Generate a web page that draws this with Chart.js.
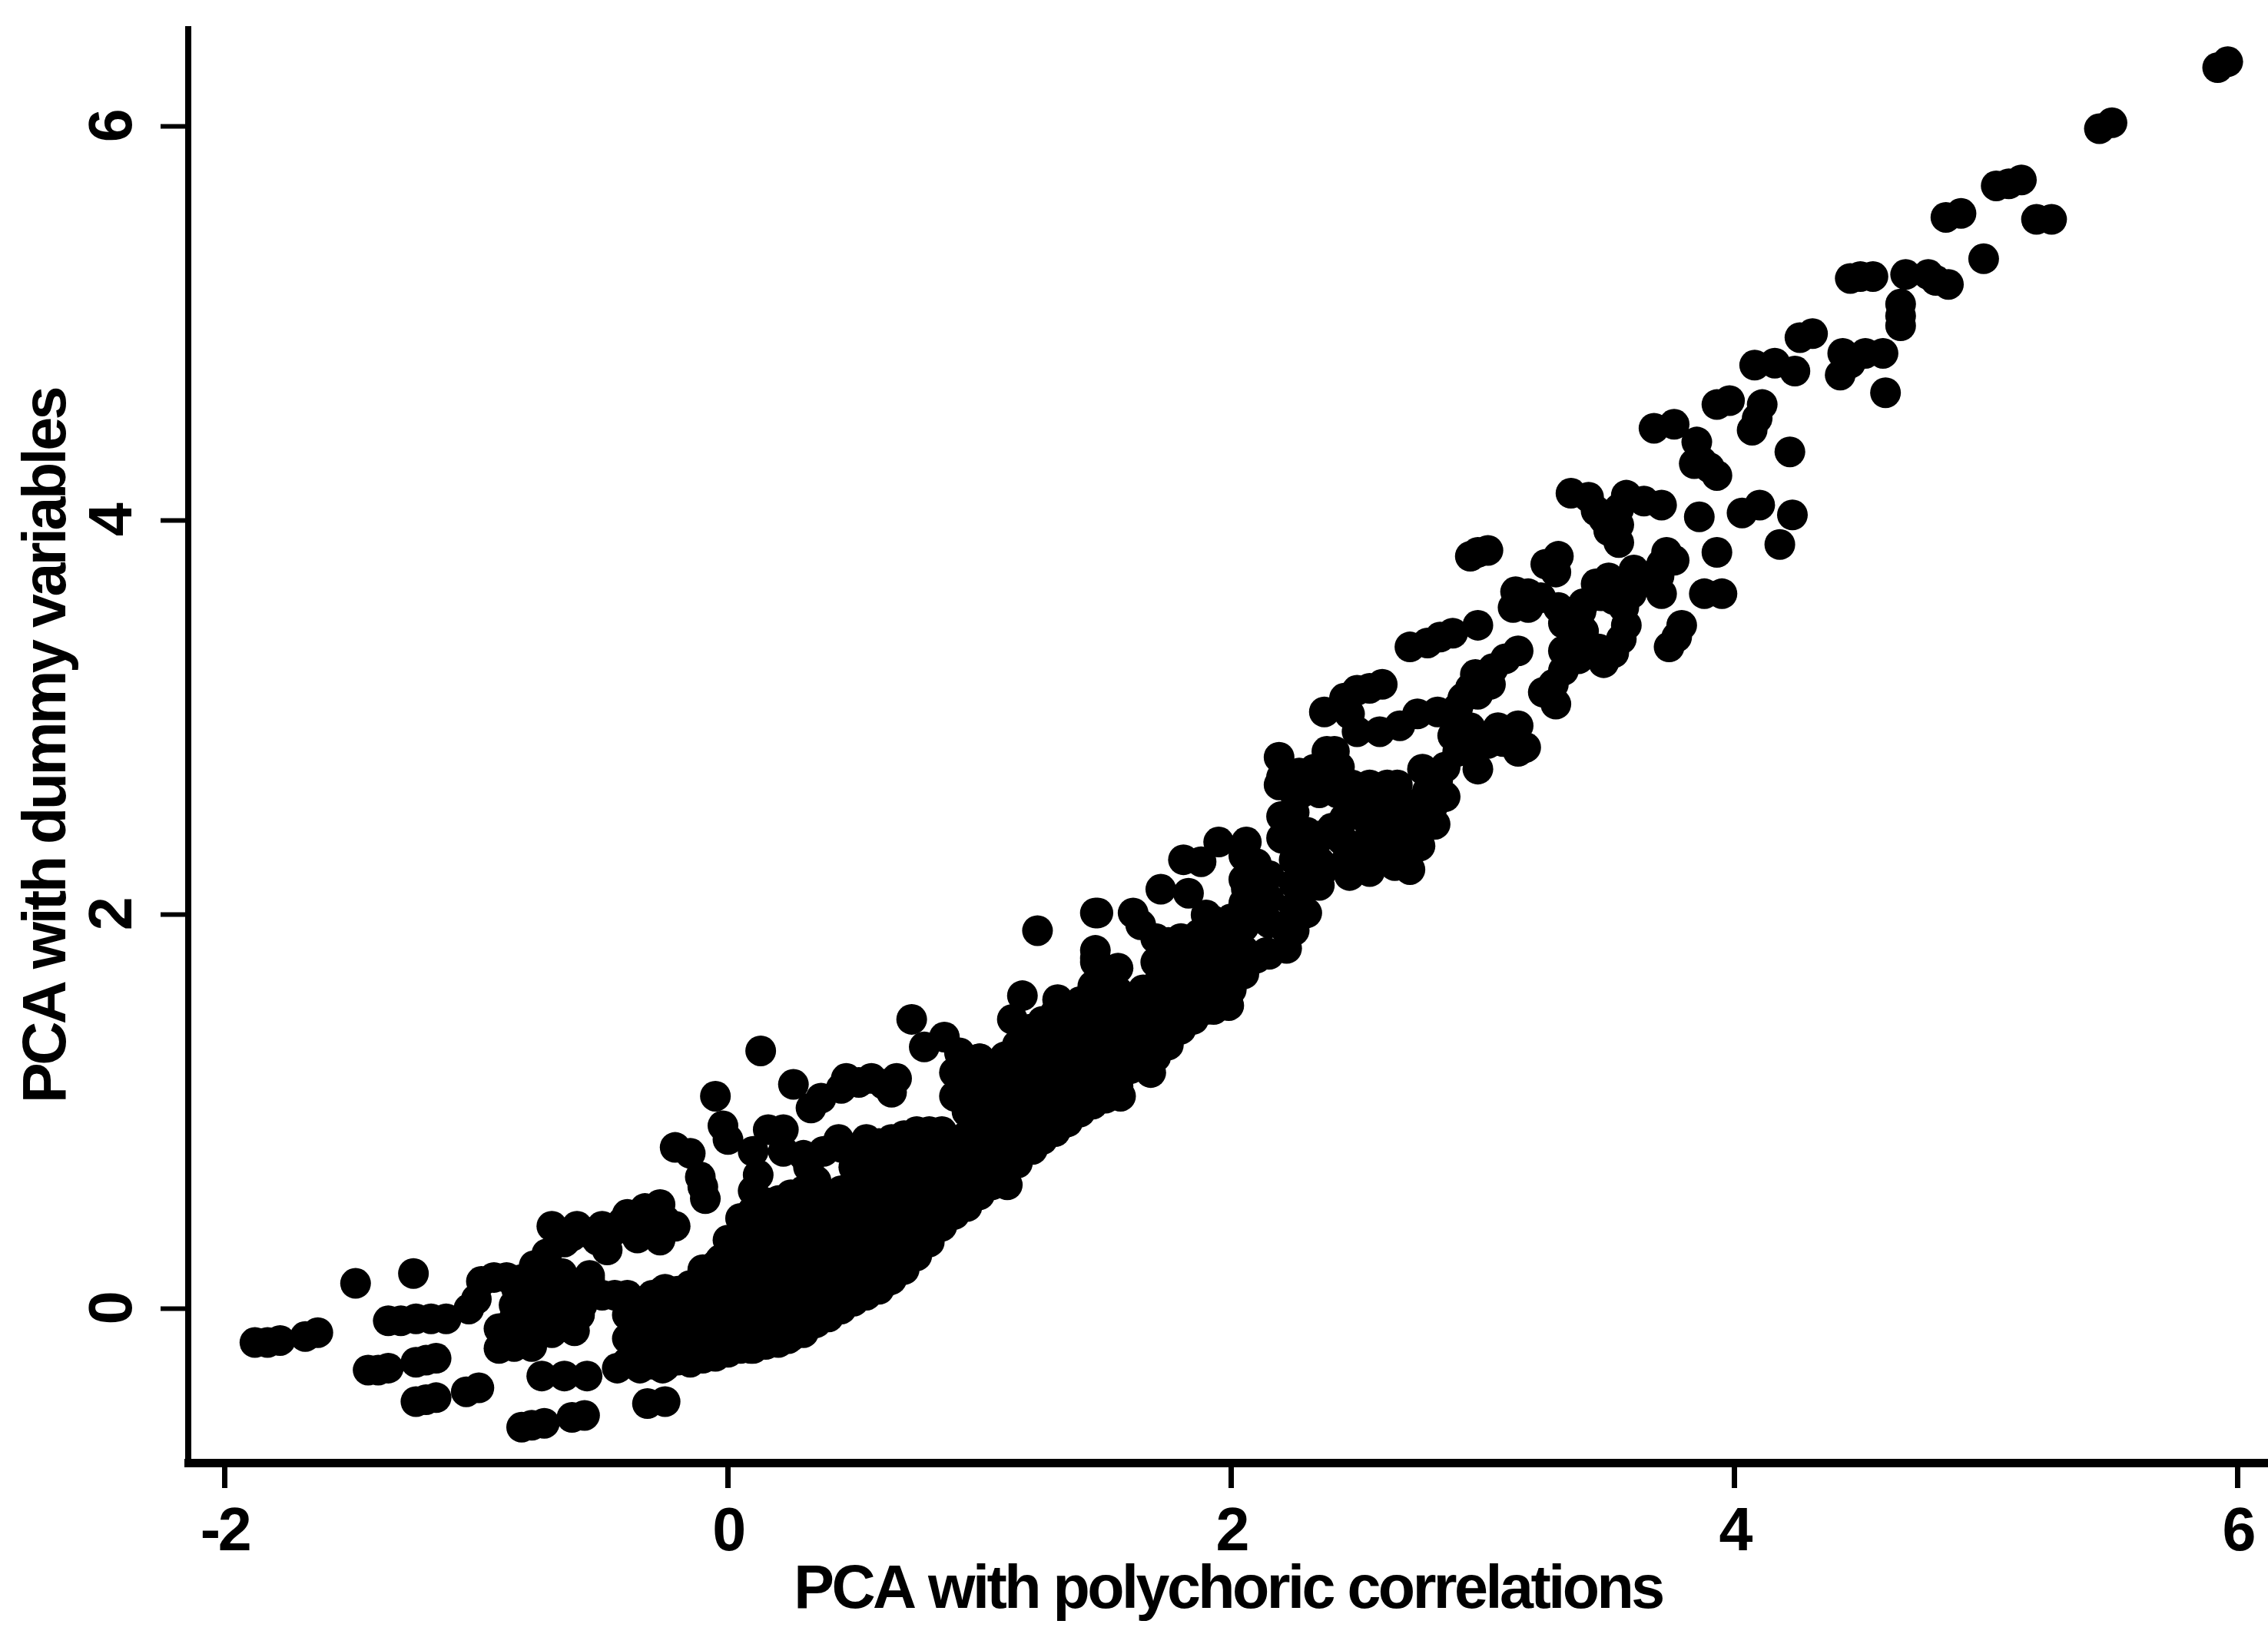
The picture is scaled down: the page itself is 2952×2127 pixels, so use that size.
<!DOCTYPE html>
<html>
<head>
<meta charset="utf-8">
<title>PCA comparison</title>
<script src="https://cdn.jsdelivr.net/npm/chart.js@4"></script>
<style>
  html, body { margin: 0; padding: 0; background: #fff; }
  canvas { display: block; }
</style>
</head>
<body>
<canvas id="chart" width="2952" height="2127"></canvas>
<script>
// Values, cluster by cluster. Each line of X pairs with the same line of Y.
const xTickValues = [-2, 0, 2, 4, 6];
const yTickValues = [0, 2, 4, 6];
const xAxisTitle = 'PCA with polychoric correlations';
const yAxisTitle = 'PCA with dummy variables';

// top right tail
const tailX = [
  5.92, 5.96, 5.45, 5.50, 5.04, 5.09, 5.14, 4.84, 4.90, 5.20, 5.26, 4.99,
  4.46, 4.50, 4.55, 4.68, 4.77, 4.80, 4.85, 4.66, 4.66, 4.66,
  4.26, 4.31, 4.43, 4.42, 4.59, 4.46, 4.52, 4.60,
  4.08, 4.16, 4.24, 3.93, 3.98, 4.11, 4.07, 4.09, 4.22,
  3.68, 3.76, 3.85, 3.87, 3.84, 3.93, 3.90,
  3.35, 3.57, 3.71, 3.64, 3.48, 3.54, 3.54, 3.42, 3.86, 4.03, 4.10, 4.23, 4.18, 3.93,
  3.45, 3.50, 3.54
];
const tailY = [
  6.30, 6.33, 5.99, 6.02, 5.70, 5.71, 5.73, 5.54, 5.56, 5.53, 5.53, 5.33,
  5.23, 5.24, 5.24, 5.25, 5.25, 5.22, 5.20, 5.10, 5.04, 4.99,
  4.93, 4.95, 4.85, 4.74, 4.85, 4.80, 4.85, 4.65,
  4.79, 4.80, 4.76, 4.59, 4.61, 4.59, 4.46, 4.52, 4.35,
  4.47, 4.49, 4.40, 4.30, 4.29, 4.23, 4.27,
  4.14, 4.13, 4.08, 4.10, 4.01, 3.89, 3.98, 4.12, 4.02, 4.04, 4.08, 4.03, 3.88, 3.84,
  4.05, 3.95, 4.06
];

// scattered band between 2.2 and 4
const upperBandX = [
  2.95, 2.98, 3.02, 3.30, 3.25, 3.29, 3.73, 3.71, 3.71, 3.88, 3.95, 3.79, 3.74, 3.77, 3.65, 3.60,
  3.50, 3.59, 3.57, 3.46, 3.39, 3.37, 3.13, 3.12, 3.23, 3.30, 3.18,
  3.47, 3.56, 3.40, 3.55, 3.40, 3.20, 3.32, 3.32, 3.18, 3.52,
  2.71, 2.78, 2.88, 2.98, 2.83, 3.14, 2.97, 3.03, 3.09, 3.28, 3.29, 3.24, 3.32, 3.38,
  2.55, 2.60, 2.50, 2.37, 2.74, 2.82, 2.90, 3.14, 3.14, 3.17, 2.47, 2.45,
  2.59, 2.67, 2.50, 2.55, 2.66, 2.76, 2.90, 2.98, 2.88, 2.95,
  2.19, 2.20, 2.19, 2.33, 2.41, 2.48, 2.65, 2.78, 2.76, 2.81, 2.47, 2.59,
  2.85, 2.45, 2.65, 2.75, 2.75, 2.30, 2.30,
  2.25, 2.25, 2.25, 2.35, 2.42, 2.40, 2.50, 2.50, 2.55, 2.60, 2.60,
  2.70, 2.70, 2.62, 2.37, 2.55, 2.75, 2.80, 2.85, 2.82, 2.20, 2.35,
  3.06, 3.02, 2.94, 3.08, 2.92, 2.98, 3.04, 2.95,
  2.27, 2.28, 2.37, 2.43, 2.38,
  3.52, 3.45, 3.36, 3.48, 3.76, 3.70
];
const upperBandY = [
  3.82, 3.84, 3.85, 3.82, 3.78, 3.74, 3.84, 3.78, 3.63, 3.63, 3.63, 3.47, 3.36, 3.41, 3.70, 3.75,
  3.71, 3.63, 3.47, 3.35, 3.54, 3.40, 3.64, 3.56, 3.61, 3.56, 3.56,
  3.62, 3.56, 3.44, 3.40, 3.58, 3.60, 3.48, 3.34, 3.63, 3.33,
  3.36, 3.38, 3.43, 3.47, 3.41, 3.34, 3.22, 3.17, 3.30, 3.17, 3.07, 3.13, 3.24, 3.30,
  3.15, 3.17, 3.14, 3.03, 3.02, 3.03, 3.05, 2.96, 2.83, 2.85, 3.02, 3.10,
  2.93, 2.96, 2.93, 2.66, 2.66, 2.74, 2.83, 2.74, 2.91, 2.95,
  2.80, 2.70, 2.66, 2.74, 2.83, 2.66, 2.60, 2.63, 2.49, 2.46, 2.51, 2.46,
  2.75, 2.61, 2.42, 2.35, 2.57, 2.32, 2.42,
  2.40, 2.52, 2.62, 2.62, 2.62, 2.44, 2.35, 2.58, 2.53, 2.30, 2.55,
  2.35, 2.50, 2.66, 2.76, 2.30, 2.45, 2.55, 2.60, 2.68, 2.50, 2.40,
  2.95, 2.87, 2.86, 2.88, 3.10, 3.12, 3.25, 3.15,
  2.72, 2.62, 2.70, 2.75, 2.83,
  3.60, 3.68, 3.50, 3.28, 3.80, 3.72
];

// upper and lower edge of the dense band around x = 2
const edgeX = [
  2.20, 2.06, 1.95, 1.81, 1.88, 2.71, 2.65, 2.47, 2.36, 2.44, 2.59, 2.12,
  2.28, 2.30, 2.22, 2.22, 2.04, 1.98, 2.06, 1.72, 1.83, 2.30, 2.44,
  1.46, 1.61, 1.46, 1.64, 1.87, 1.93, 1.77, 1.77, 1.48, 1.97, 2.14,
  1.23, 1.47, 1.46, 1.46, 1.17, 1.31, 0.73, 0.78, 0.86, 1.00, 0.92, 1.13, 1.20,
  1.99, 1.93, 1.70, 1.68, 1.56, 1.50, 1.33, 1.21, 1.11, 0.90, 0.73, 0.63, 0.45, 0.33, 0.24
];
const edgeY = [
  2.39, 2.37, 2.37, 2.28, 2.27, 2.23, 2.25, 2.20, 2.22, 2.38, 2.38, 2.21,
  2.11, 2.01, 1.92, 1.83, 1.73, 1.68, 2.13, 2.13, 2.11, 2.20, 2.25,
  2.01, 2.01, 1.76, 1.95, 1.90, 1.97, 1.80, 1.64, 1.62, 1.80, 1.81,
  1.92, 2.01, 1.82, 1.78, 1.59, 1.57, 1.47, 1.33, 1.38, 1.27, 1.30, 1.47, 1.40,
  1.54, 1.52, 1.34, 1.20, 1.08, 1.07, 0.94, 0.81, 0.63, 0.53, 0.27, 0.14, 0.06, -0.03, -0.15
];

// upper arm left of x = 0.9
const armX = [
  0.26, 0.47, 0.57, 0.67, 0.45, 0.65, 0.37, 0.13, 0.33, 0.52, 0.62,
  -0.05, -0.02, 0.00, 0.16, 0.22, -0.21, -0.15, -0.11, -0.09,
  -0.27, -0.40, -0.33, -0.62, -0.56, -0.21, -0.27, -0.42, -0.28, -0.36, -0.10, 0.09,
  0.12, 0.32, 0.30, 0.38, 0.10, 0.22, 0.44, 0.10,
  0.55, 0.50, 0.60, 0.65, 0.75, 0.70, 0.80, -0.33, -0.25, -0.45, -0.70
];
const armY = [
  1.14, 1.17, 1.17, 1.17, 1.12, 1.10, 1.07, 1.31, 1.02, 1.15, 1.14,
  1.08, 0.93, 0.86, 0.91, 0.91, 0.82, 0.79, 0.67, 0.56,
  0.53, 0.48, 0.51, 0.37, 0.39, 0.42, 0.35, 0.44, 0.50, 0.36, 0.62, 0.44,
  0.68, 0.72, 0.78, 0.80, 0.80, 0.80, 0.86, 0.60,
  0.76, 0.72, 0.77, 0.80, 0.90, 0.88, 0.90, 0.40, 0.45, 0.40, 0.42
];

// solid middle of the cloud, column by column
const bodyX = [
  -0.40, -0.40, -0.40, -0.40,
  -0.30, -0.30, -0.30, -0.30,
  -0.20, -0.20, -0.20, -0.20,
  -0.10, -0.10, -0.10, -0.10, -0.10,
  0.00, 0.00, 0.00, 0.00, 0.00, 0.00,
  0.10, 0.10, 0.10, 0.10, 0.10, 0.10, 0.10,
  0.20, 0.20, 0.20, 0.20, 0.20, 0.20, 0.20,
  0.30, 0.30, 0.30, 0.30, 0.30, 0.30, 0.30,
  0.40, 0.40, 0.40, 0.40, 0.40, 0.40,
  0.50, 0.50, 0.50, 0.50, 0.50, 0.50, 0.50,
  0.60, 0.60, 0.60, 0.60, 0.60, 0.60, 0.60,
  0.70, 0.70, 0.70, 0.70, 0.70, 0.70,
  0.80, 0.80, 0.80, 0.80, 0.80, 0.80,
  0.90, 0.90, 0.90, 0.90, 0.90, 0.90,
  1.00, 1.00, 1.00, 1.00, 1.00, 1.00, 1.00,
  1.10, 1.10, 1.10, 1.10, 1.10, 1.10,
  1.20, 1.20, 1.20, 1.20, 1.20, 1.20,
  1.30, 1.30, 1.30, 1.30, 1.30, 1.30,
  1.40, 1.40, 1.40, 1.40, 1.40, 1.40,
  1.50, 1.50, 1.50, 1.50, 1.50, 1.50,
  1.60, 1.60, 1.60, 1.60,
  1.70, 1.70, 1.70, 1.70, 1.70, 1.70,
  1.80, 1.80, 1.80, 1.80, 1.80,
  1.90, 1.90, 1.90, 1.90, 1.90,
  2.00, 2.00, 2.00, 2.00,
  2.10, 2.10, 2.10, 2.10
];
const bodyY = [
  -0.27, -0.15, -0.03, 0.07,
  -0.28, -0.17, -0.05, 0.07,
  -0.26, -0.14, -0.02, 0.09,
  -0.25, -0.16, -0.04, 0.08, 0.20,
  -0.22, -0.10, 0.02, 0.14, 0.26, 0.35,
  -0.20, -0.08, 0.04, 0.16, 0.28, 0.40, 0.50,
  -0.17, -0.05, 0.07, 0.19, 0.31, 0.43, 0.55,
  -0.12, 0.00, 0.12, 0.24, 0.36, 0.48, 0.60,
  -0.04, 0.08, 0.20, 0.32, 0.44, 0.56,
  0.04, 0.16, 0.28, 0.40, 0.52, 0.64, 0.80,
  0.10, 0.22, 0.34, 0.46, 0.58, 0.70, 0.84,
  0.20, 0.32, 0.44, 0.56, 0.68, 0.80,
  0.34, 0.46, 0.58, 0.70, 0.82, 0.88,
  0.48, 0.60, 0.72, 0.84, 1.08, 1.20,
  0.58, 0.70, 0.82, 0.94, 1.06, 1.18, 1.27,
  0.68, 0.80, 0.92, 1.04, 1.16, 1.28,
  0.82, 0.94, 1.06, 1.18, 1.30, 1.42,
  0.90, 1.02, 1.14, 1.26, 1.38, 1.50,
  1.00, 1.12, 1.24, 1.36, 1.48, 1.56,
  1.08, 1.20, 1.32, 1.44, 1.56, 1.68,
  1.22, 1.34, 1.46, 1.58,
  1.28, 1.40, 1.52, 1.64, 1.76, 1.88,
  1.42, 1.54, 1.66, 1.78, 1.88,
  1.52, 1.64, 1.76, 1.88, 2.00,
  1.62, 1.74, 1.86, 1.98,
  1.78, 2.02, 2.14, 2.26
];

// same cloud, the columns in between
const bodyMidX = [
  -0.35, -0.35, -0.35, -0.35,
  -0.25, -0.25, -0.25, -0.25, -0.25,
  -0.15, -0.15, -0.15, -0.15, -0.15,
  -0.05, -0.05, -0.05, -0.05, -0.05,
  0.05, 0.05, 0.05, 0.05, 0.05, 0.05, 0.05,
  0.15, 0.15, 0.15, 0.15, 0.15, 0.15, 0.15,
  0.25, 0.25, 0.25, 0.25, 0.25, 0.25, 0.25,
  0.35, 0.35, 0.35, 0.35, 0.35, 0.35, 0.35,
  0.45, 0.45, 0.45, 0.45, 0.45, 0.45, 0.45,
  0.55, 0.55, 0.55, 0.55, 0.55, 0.55, 0.55,
  0.65, 0.65, 0.65, 0.65, 0.65, 0.65, 0.65,
  0.75, 0.75, 0.75, 0.75, 0.75, 0.75,
  0.85, 0.85, 0.85, 0.85, 0.85,
  0.95, 0.95, 0.95, 0.95, 0.95, 0.95, 0.95,
  1.05, 1.05, 1.05, 1.05, 1.05, 1.05,
  1.15, 1.15, 1.15, 1.15, 1.15, 1.15,
  1.25, 1.25, 1.25, 1.25, 1.25, 1.25,
  1.35, 1.35, 1.35, 1.35, 1.35, 1.35,
  1.45, 1.45, 1.45, 1.45, 1.45, 1.45,
  1.55, 1.55, 1.55, 1.55, 1.55, 1.55,
  1.65, 1.65, 1.65, 1.65,
  1.75, 1.75, 1.75, 1.75, 1.75, 1.75,
  1.85, 1.85, 1.85, 1.85,
  1.95, 1.95, 1.95, 1.95,
  2.05, 2.05, 2.05, 2.05, 2.05, 2.05,
  2.15, 2.15, 2.15, 2.15,
  2.25, 2.25, 2.25, 2.25,
  2.35, 2.35, 2.35,
  2.45, 2.45, 2.45,
  2.55, 2.55, 2.55,
  2.65, 2.65
];
const bodyMidY = [
  -0.30, -0.21, -0.09, 0.03,
  -0.29, -0.20, -0.08, 0.04, 0.10,
  -0.27, -0.20, -0.08, 0.03, 0.12,
  -0.24, -0.13, -0.01, 0.11, 0.22,
  -0.20, -0.09, 0.03, 0.15, 0.27, 0.38, 0.46,
  -0.18, -0.06, 0.06, 0.18, 0.30, 0.42, 0.54,
  -0.14, -0.02, 0.10, 0.22, 0.34, 0.46, 0.58,
  -0.07, 0.05, 0.17, 0.29, 0.41, 0.53, 0.65,
  0.00, 0.12, 0.24, 0.36, 0.48, 0.60, 0.82,
  0.07, 0.19, 0.31, 0.43, 0.55, 0.67, 0.86,
  0.15, 0.27, 0.39, 0.51, 0.63, 0.75, 0.86,
  0.27, 0.39, 0.51, 0.63, 0.75, 0.86,
  0.42, 0.54, 0.66, 0.78, 0.90,
  0.52, 0.64, 0.76, 0.88, 1.00, 1.12, 1.24,
  0.63, 0.75, 0.87, 0.99, 1.11, 1.23,
  0.74, 0.86, 0.98, 1.10, 1.22, 1.34,
  0.86, 0.98, 1.10, 1.22, 1.34, 1.46,
  0.95, 1.07, 1.19, 1.31, 1.43, 1.53,
  1.04, 1.16, 1.28, 1.40, 1.52, 1.64,
  1.13, 1.25, 1.37, 1.49, 1.61, 1.73,
  1.26, 1.38, 1.50, 1.62,
  1.34, 1.46, 1.58, 1.70, 1.82, 1.86,
  1.47, 1.59, 1.71, 1.83,
  1.57, 1.69, 1.81, 1.93,
  1.70, 1.82, 1.94, 2.06, 2.18, 2.30,
  1.80, 1.96, 2.08, 2.20,
  1.92, 2.04, 2.16, 2.28,
  2.15, 2.27, 2.39,
  2.25, 2.37, 2.49,
  2.22, 2.34, 2.46,
  2.28, 2.40
];

// bottom left, separate strings of points and the block above them
const lowerLeftX = [
  -1.48, -1.25, -1.88, -1.83, -1.78, -1.68, -1.63, -1.35, -1.30, -1.24, -1.18, -1.12,
  -1.43, -1.39, -1.35, -1.24, -1.16, -1.20, -1.24, -1.20, -1.16, -1.04, -0.99,
  -0.82, -0.78, -0.73, -0.62, -0.57, -0.32, -0.25,
  -0.74, -0.65, -0.56, -0.44, -0.26, -0.07, 0.09,
  -0.91, -0.91, -0.85, -0.98, -0.93, -0.84, -0.77, -0.65, -0.62, -0.61, -0.65, -0.61, -0.59,
  -0.50, -0.38, -0.26, -0.11, -0.03, -0.75, -0.70,
  -0.80, -0.80, -0.72, -0.72, -0.72, -0.80, -0.85, -0.55, -0.70, -0.55, -0.48, -0.52, -0.50, -0.60, -0.72, -1.03, -1.00,
  -0.75, -0.68, -0.68, -0.85, -0.78, -0.70, -0.62, -0.45, -0.55, -0.60,
  -0.78, -0.70, -0.66, -0.58, -0.66, -0.78, -0.85, -0.76, -0.82, -0.88
];
const lowerLeftY = [
  0.13, 0.18, -0.17, -0.17, -0.16, -0.14, -0.12, -0.06, -0.06, -0.05, -0.05, -0.05,
  -0.31, -0.31, -0.30, -0.27, -0.25, -0.26, -0.47, -0.46, -0.45, -0.42, -0.40,
  -0.60, -0.59, -0.58, -0.55, -0.54, -0.48, -0.47,
  -0.34, -0.34, -0.34, -0.30, -0.30, -0.23, -0.20,
  -0.20, -0.10, -0.05, 0.14, 0.16, 0.10, 0.22, 0.34, 0.05, -0.11, -0.04, 0.11, -0.03,
  0.07, -0.06, 0.09, 0.12, 0.25, 0.05, -0.10,
  0.05, -0.05, 0.10, 0.00, -0.10, -0.15, 0.02, 0.15, 0.18, 0.17, 0.30, 0.35, 0.42, 0.42, 0.28, 0.00, 0.05,
  0.15, 0.05, -0.05, -0.19, -0.19, -0.12, -0.10, 0.07, 0.10, 0.10,
  0.12, 0.10, 0.18, 0.02, -0.02, -0.02, -0.10, -0.10, 0.15, 0.16
];

const xValues = [].concat(tailX, upperBandX, edgeX, armX, bodyX, bodyMidX, lowerLeftX);
const yValues = [].concat(tailY, upperBandY, edgeY, armY, bodyY, bodyMidY, lowerLeftY);

const textFont = { family: "'Liberation Sans', Arial, sans-serif", size: 79, weight: 'bold' };

// keep the plot edges where they are, labels may hang past them
function dropMargins(axis) {
  axis.paddingLeft = 0;
  axis.paddingRight = 0;
  axis.paddingTop = 0;
  axis.paddingBottom = 0;
}

new Chart(document.getElementById('chart').getContext('2d'), {
  type: 'scatter',
  data: {
    datasets: [{
      data: xValues.map((x, i) => ({ x: x, y: yValues[i] })),
      pointRadius: 20,
      pointBorderWidth: 0,
      pointBackgroundColor: '#000',
      showLine: false
    }]
  },
  plugins: [{
    id: 'tightText',
    // the scan squeezes its letters together
    beforeDraw: chart => { chart.ctx.letterSpacing = '-3.5px'; }
  }],
  options: {
    responsive: false,
    animation: false,
    layout: { autoPadding: false, padding: { top: 38, right: 0, left: 0, bottom: 0 } },
    plugins: { legend: { display: false }, tooltip: { enabled: false } },
    scales: {
      x: {
        type: 'linear',
        min: -2.145,
        max: 6.12,
        afterBuildTicks: axis => { axis.ticks = xTickValues.map(v => ({ value: v })); },
        afterFit: axis => { axis.height = 223; dropMargins(axis); },
        border: { display: true, color: '#000', width: 11 },
        grid: { drawOnChartArea: false, drawTicks: true, tickLength: 33, tickWidth: 7, tickColor: '#000' },
        ticks: {
          color: '#000', font: textFont, padding: 12, autoSkip: false, maxRotation: 0,
          callback: v => String(v)
        },
        title: { display: true, text: xAxisTitle, color: '#000', font: textFont, padding: { top: 0, bottom: 8 } }
      },
      y: {
        type: 'linear',
        min: -0.78,
        max: 6.495,
        afterBuildTicks: axis => { axis.ticks = yTickValues.map(v => ({ value: v })); },
        afterFit: axis => { axis.width = 245; dropMargins(axis); },
        border: { display: true, color: '#000', width: 8 },
        grid: { drawOnChartArea: false, drawTicks: true, tickLength: 36, tickWidth: 6, tickColor: '#000' },
        ticks: {
          color: '#000', font: textFont, padding: 38, autoSkip: false,
          minRotation: 90, maxRotation: 90, crossAlign: 'center',
          callback: v => String(v)
        },
        title: { display: true, text: yAxisTitle, color: '#000', font: textFont, padding: { top: 16, bottom: 0 } }
      }
    }
  }
});
</script>
</body>
</html>
